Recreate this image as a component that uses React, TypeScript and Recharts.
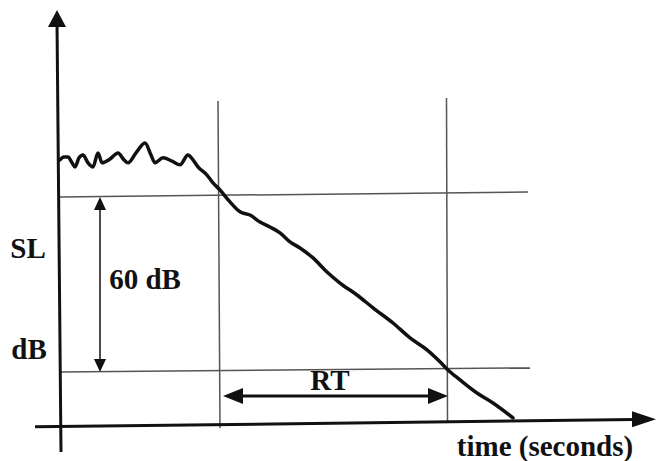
import React from 'react';
import { ComposedChart, Line, XAxis, YAxis, ReferenceLine, ReferenceDot } from 'recharts';

// Sound level decay curve (time in arbitrary seconds units, level in dB relative to the upper reference line)
const curveTime = [
  0.0, 0.04, 0.08, 0.12, 0.15, 0.19, 0.23, 0.28, 0.33, 0.38, 0.42, 0.5, 0.58, 0.64, 0.68, 0.76, 0.85, 0.91,
  0.95, 1.03, 1.12, 1.2, 1.28, 1.33, 1.38, 1.47, 1.53, 1.6, 1.7, 1.8, 1.9, 2.0, 2.1, 2.2, 2.3, 2.4, 2.53,
  2.67, 2.8, 2.97, 3.13, 3.33, 3.5, 3.67, 3.8, 3.88, 4.0, 4.17, 4.33, 4.53,
];
const curveLevel = [
  12.7, 13.7, 13.7, 11.7, 10.3, 13.4, 14.4, 11.7, 10.3, 15.1, 11.7, 13.0, 15.1, 12.7, 11.7, 15.1, 18.5, 14.4,
  11.7, 13.4, 12.3, 11.0, 14.4, 12.7, 10.3, 7.5, 4.8, 2.4, -1.7, -5.1, -6.2, -8.6, -10.3, -12.3, -15.4, -17.5,
  -20.9, -25.7, -29.5, -33.6, -38.0, -43.2, -48.3, -52.4, -56.5, -59.3, -62.7, -67.2, -70.6, -75.7,
];

// Reference levels (dB) and times
const upperLevel = 0;
const lowerLevel = -60;
const startTime = 1.59; // where decay crosses upper level
const endTime = 3.87; // where decay crosses lower level
const rtArrowLevel = -68.2;
const dbArrowTime = 0.4;

const data = curveTime.map((t, i) => ({ t, L: curveLevel[i] }));

const FONT = "Liberation Serif";
const INK = '#111';
const GRID = '#555';

type Dir = 'up' | 'down' | 'left' | 'right';
const head = (dir: Dir, len: number, hw: number) => (props: any) => {
  const { cx, cy } = props;
  let pts = '';
  if (dir === 'up') pts = `${cx},${cy} ${cx - hw},${cy + len} ${cx + hw},${cy + len}`;
  if (dir === 'down') pts = `${cx},${cy} ${cx - hw},${cy - len} ${cx + hw},${cy - len}`;
  if (dir === 'left') pts = `${cx},${cy} ${cx + len},${cy - hw} ${cx + len},${cy + hw}`;
  if (dir === 'right') pts = `${cx},${cy} ${cx - len},${cy - hw} ${cx - len},${cy + hw}`;
  return <polygon points={pts} fill={INK} />;
};

const txt = (value: string) => ({
  value,
  position: 'center' as const,
  fontSize: 29,
  fontWeight: 700,
  fontFamily: FONT,
  fill: INK,
});

export default function App() {
  return (
    <div style={{ position: 'absolute', left: 0, top: 0, width: 657, height: 461, background: '#fff' }}>
      <ComposedChart width={657} height={461} data={data} margin={{ top: 0, right: 0, bottom: 0, left: 0 }}>
        <XAxis type="number" dataKey="t" domain={[-0.6, 5.97]} hide allowDataOverflow />
        <YAxis type="number" domain={[-90.5, 67.5]} hide allowDataOverflow />

        {/* grid / reference lines */}
        <ReferenceLine segment={[{ x: 0, y: upperLevel }, { x: 4.68, y: upperLevel + 1.7 }]} stroke={GRID} strokeWidth={1.5} />
        <ReferenceLine segment={[{ x: 0, y: lowerLevel }, { x: 4.7, y: lowerLevel + 1.4 }]} stroke={GRID} strokeWidth={1.5} />
        <ReferenceLine segment={[{ x: startTime - 0.01, y: 32.9 }, { x: startTime + 0.01, y: -79.2 }]} stroke={GRID} strokeWidth={1.5} />
        <ReferenceLine segment={[{ x: endTime - 0.005, y: 33.9 }, { x: endTime + 0.005, y: -77.1 }]} stroke={GRID} strokeWidth={1.5} />

        {/* axes */}
        <ReferenceLine segment={[{ x: -0.03, y: 60 }, { x: 0.01, y: -87.4 }]} stroke={INK} strokeWidth={3} />
        <ReferenceDot x={-0.03} y={64.1} r={0} shape={head('up', 17, 9)} />
        <ReferenceLine segment={[{ x: -0.25, y: -78.8 }, { x: 5.75, y: -76.3 }]} stroke={INK} strokeWidth={3} />
        <ReferenceDot x={5.96} y={-76.2} r={0} shape={head('right', 24, 8)} />

        {/* 60 dB dimension arrow */}
        <ReferenceLine segment={[{ x: dbArrowTime, y: upperLevel - 3 }, { x: dbArrowTime, y: lowerLevel + 3 }]} stroke={INK} strokeWidth={1.5} />
        <ReferenceDot x={dbArrowTime} y={upperLevel} r={0} shape={head('up', 13, 6)} />
        <ReferenceDot x={dbArrowTime} y={lowerLevel} r={0} shape={head('down', 13, 6)} />

        {/* RT dimension arrow */}
        <ReferenceLine segment={[{ x: startTime + 0.1, y: rtArrowLevel }, { x: endTime - 0.1, y: rtArrowLevel }]} stroke={INK} strokeWidth={3} />
        <ReferenceDot x={startTime + 0.04} y={rtArrowLevel} r={0} shape={head('left', 20, 8)} />
        <ReferenceDot x={endTime + 0.01} y={rtArrowLevel} r={0} shape={head('right', 20, 8)} />

        {/* decay curve */}
        <Line
          type="monotoneX"
          dataKey="L"
          stroke={INK}
          strokeWidth={3.5}
          dot={false}
          activeDot={false}
          isAnimationActive={false}
          strokeLinejoin="round"
          strokeLinecap="round"
        />

        {/* texts */}
        <ReferenceDot x={-0.32} y={-17.3} r={0} fill="none" stroke="none" label={txt('SL')} />
        <ReferenceDot x={0.85} y={-28} r={0} fill="none" stroke="none" label={txt('60 dB')} />
        <ReferenceDot x={-0.31} y={-52.1} r={0} fill="none" stroke="none" label={txt('dB')} />
        <ReferenceDot x={2.7} y={-62.7} r={0} fill="none" stroke="none" label={txt('RT')} />
        <ReferenceDot x={4.85} y={-85.2} r={0} fill="none" stroke="none" label={txt('time (seconds)')} />
      </ComposedChart>
    </div>
  );
}
